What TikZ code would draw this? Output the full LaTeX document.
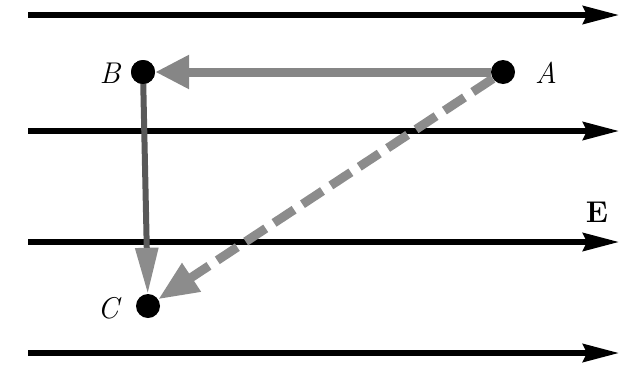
\documentclass[tikz,border=0pt]{standalone}
\usetikzlibrary{arrows.meta}
\begin{document}
\begin{tikzpicture}[x=1pt,y=-1pt,
  field/.style={line width=5.5pt,black,-{Stealth[length=36pt,width=18pt,inset=4pt]}},
  vec/.style={line width=9pt,draw=gray!95,-{Triangle[length=34pt,width=32pt]}},
  vecv/.style={line width=6pt,draw=black!65,-{Triangle[length=46pt,width=22pt,fill=gray!90,color=gray!90]}},
  dvec/.style={line width=9pt,draw=gray!90,dash pattern=on 24pt off 10pt,-{Triangle[length=40pt,width=32pt]}},
  pt/.style={circle,fill=black,inner sep=0pt,minimum size=24pt},
  lbl/.style={font=\itshape\fontsize{30}{30}\selectfont}]
\useasboundingbox (0,0) rectangle (631,370);
\coordinate (l1a) at (28,15);  \coordinate (l1b) at (619,15);
\coordinate (l2a) at (28,131); \coordinate (l2b) at (619,131);
\coordinate (l3a) at (28,242); \coordinate (l3b) at (619,242);
\coordinate (l4a) at (28,353); \coordinate (l4b) at (619,353);
\draw[field] (l1a) -- (l1b);
\draw[field] (l2a) -- (l2b);
\draw[field] (l3a) -- (l3b);
\draw[field] (l4a) -- (l4b);
\node[pt] (A) at (503,72) {};
\node[pt] (B) at (143,72) {};
\node[pt] (C) at (148,306) {};
\draw[dvec] (A) -- (C);
\draw[vec] (A) -- (B);
\draw[vecv] (B.center) -- (C);
\node[pt] at (B) {};
\node[lbl] (la) at (546,73) {A};
\node[lbl] (lb) at (110,73) {B};
\node[lbl] (lc) at (108,308) {C};
\node[font=\bfseries\fontsize{30}{30}\selectfont] (E) at (597,212) {E};
\end{tikzpicture}
\end{document}
